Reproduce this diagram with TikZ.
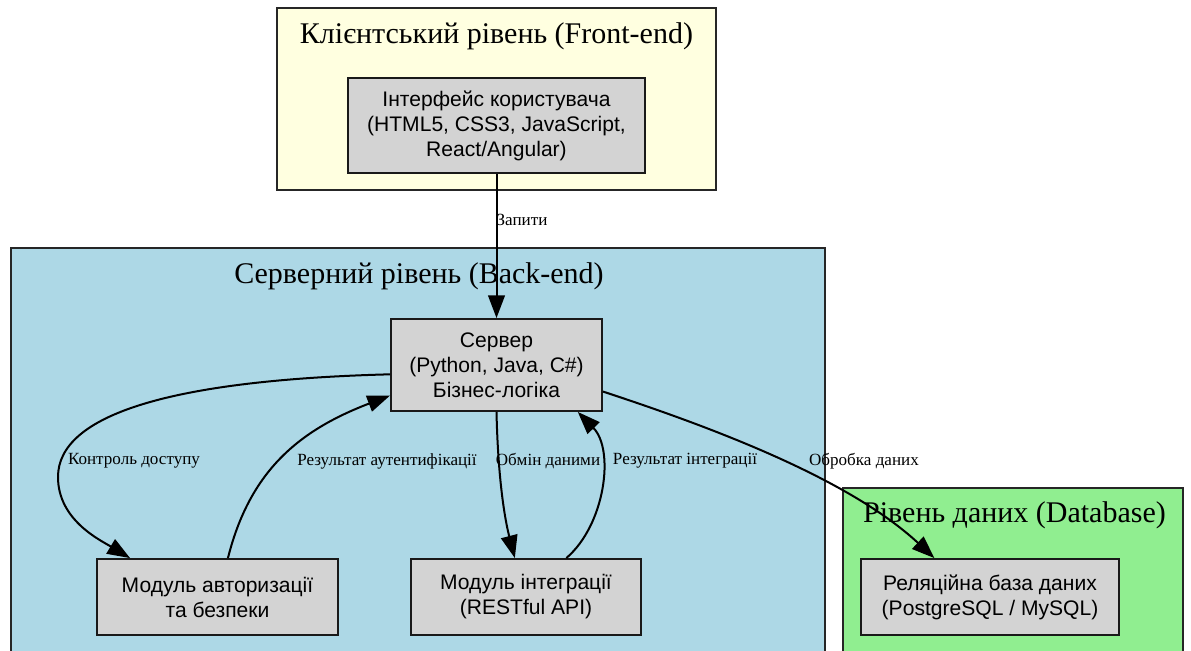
\documentclass[tikz,border=0pt]{standalone}
\usepackage{fontspec}
\setmainfont{Liberation Serif}
\newfontfamily\boxfont{Liberation Sans}
\usetikzlibrary{arrows.meta}
\definecolor{frontbg}{HTML}{FFFFE0}
\definecolor{backbg}{HTML}{ADD8E6}
\definecolor{databg}{HTML}{90EE90}
\definecolor{boxbg}{HTML}{D3D3D3}
\begin{document}
\begin{tikzpicture}[x=0.75pt,y=-0.75pt,
    layer/.style={draw=black!85,line width=1.4pt},
    layertitle/.style={font=\fontsize{22.5}{26}\selectfont,inner sep=0pt},
    module/.style={draw=black!90,line width=1.4pt,fill=boxbg,align=center,inner sep=0pt,
      font=\boxfont\fontsize{15.8}{18.8}\selectfont},
    flow/.style={-{Triangle[length=17pt,width=12.5pt]},line width=1.5pt},
    flowlabel/.style={font=\fontsize{12.8}{15}\selectfont,inner sep=0pt}]
    \useasboundingbox (0,0) rectangle (1191,650);
    \clip (0,0) rectangle (1191,650);
    % layers
    \draw[layer,fill=frontbg] (277,8) rectangle (716,190);
    \node[layertitle] (fetitle) at (496.5,36) {Клієнтський рівень (Front-end)};
    \draw[layer,fill=backbg] (11,248) rectangle (825,670);
    \node[layertitle] (betitle) at (419,276) {Серверний рівень (Back-end)};
    \draw[layer,fill=databg] (843,488) rectangle (1183,670);
    \node[layertitle] (dbtitle) at (1014.5,515) {Рівень даних (Database)};
    % modules
    \node[module,minimum width=222.75pt,minimum height=71.25pt] (ui) at (496.5,125.5)
      {Інтерфейс користувача\\(HTML5, CSS3, JavaScript,\\React/Angular)};
    \node[module,minimum width=158.25pt,minimum height=69pt] (srv) at (496.5,365)
      {Сервер\\(Python, Java, C\#)\\Бізнес-логіка};
    \node[module,minimum width=180.75pt,minimum height=57pt] (auth) at (217.5,597)
      {Модуль авторизації\\та безпеки};
    \node[module,minimum width=172.5pt,minimum height=57pt] (integ) at (526,597)
      {Модуль інтеграції\\(RESTful API)};
    \node[module,minimum width=193.5pt,minimum height=57pt] (dbase) at (990,597)
      {Реляційна база даних\\(PostgreSQL / MySQL)};
    % flows
    \draw[flow] (ui.south) -- (srv.north);
    \draw[flow] (srv.185) .. controls (170,380) and (58,415) .. (58,477)
      .. controls (58,520) and (100,540) .. (auth.156);
    \draw[flow] (auth.75) .. controls (250,470) and (300,430) .. (srv.196);
    \draw[flow] (srv.south) .. controls (498,480) and (505,520) .. (integ.106);
    \draw[flow] (integ.44) .. controls (605,525) and (615,450) .. (srv.330);
    \draw[flow] (srv.346) .. controls (720,430) and (850,480) .. (dbase.145);
    % flow labels
    \node[flowlabel] (lreq) at (522,220) {Запити};
    \node[flowlabel] (lacc) at (134,461) {Контроль доступу};
    \node[flowlabel] (lauth) at (387,461) {Результат аутентифікації};
    \node[flowlabel] (lexch) at (548,461) {Обмін даними};
    \node[flowlabel] (lint) at (685,461) {Результат інтеграції};
    \node[flowlabel] (lproc) at (864,461) {Обробка даних};
\end{tikzpicture}
\end{document}
